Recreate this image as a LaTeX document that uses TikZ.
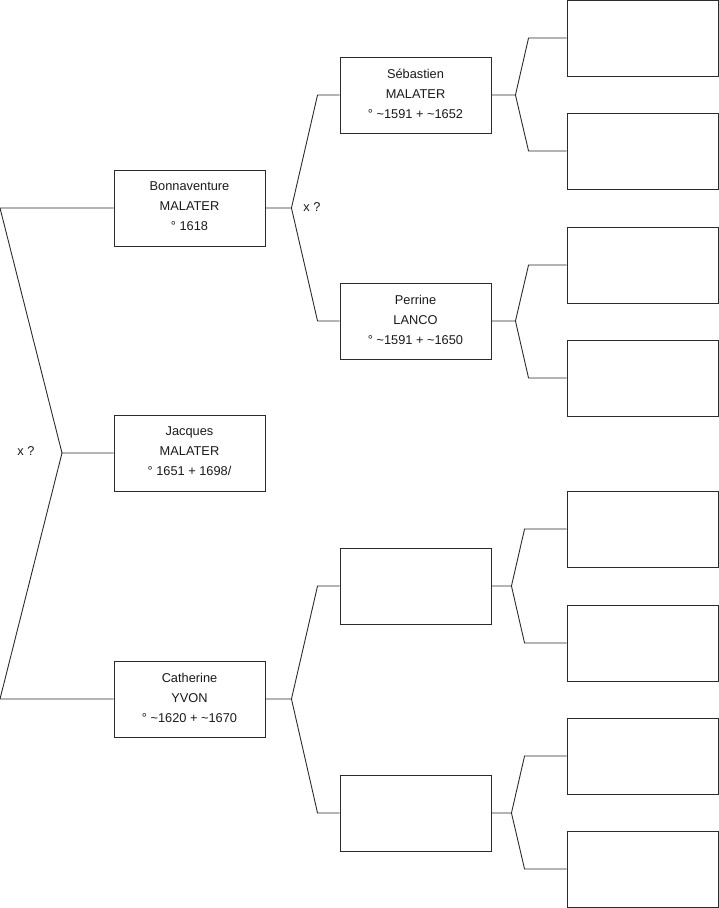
\documentclass[tikz,border=0pt]{standalone}
\usepackage{fontspec}
\setmainfont{Liberation Sans}
\usepackage{tikz}
\usetikzlibrary{positioning,calc}
\definecolor{ink}{HTML}{1A1A1A}
\definecolor{edge}{HTML}{2B2B2B}

\begin{document}
\begin{tikzpicture}[x=1pt,y=-1pt,line width=0.9pt,
  every node/.style={font=\fontsize{12.8}{20}\selectfont,text=ink},
  person/.style={draw=edge,minimum width=151pt,minimum height=76pt,align=center,inner sep=0pt},
  link/.style={draw=edge}]
  \useasboundingbox (0,0) rectangle (719,908);
  \coordinate (o) at (0,0);
  % generation 1
  \node[person] (bonn) at (189.5,208) {Bonnaventure\\MALATER\\° 1618\vspace{3pt}};
  \node[person] (jacq) at (189.5,453) {Jacques\\MALATER\\° 1651 + 1698/\vspace{3pt}};
  \node[person] (cath) at (189.5,699) {Catherine\\YVON\\° \textasciitilde1620 + \textasciitilde1670\vspace{3pt}};
  % generation 2
  \node[person] (seba) at (415.5,95) {Sébastien\\MALATER\\° \textasciitilde1591 + \textasciitilde1652\vspace{3pt}};
  \node[person] (perr) at (415.5,321) {Perrine\\LANCO\\° \textasciitilde1591 + \textasciitilde1650\vspace{3pt}};
  \node[person] (anca) at (415.5,586) {};
  \node[person] (ancb) at (415.5,813) {};
  % generation 3
  \foreach \n/\y in {1/38,2/151,3/265,4/378,5/529,6/643,7/756,8/869}
    \node[person] (g\n) at (642.5,\y) {};
  % couple Jacques
  \coordinate (f0) at (62,453);
  \draw[link] (jacq.west) -- (f0) -- (bonn.west -| o) -- (bonn.west);
  \draw[link] (f0) -- (cath.west -| o) -- (cath.west);
  \node at (26,451) {x ?};
  % parents of Bonnaventure
  \draw[link] (bonn.east) -- ++(26,0) coordinate (f1) -- ([xshift=-22pt]seba.west) -- (seba.west);
  \draw[link] (f1) -- ([xshift=-22pt]perr.west) -- (perr.west);
  \node at (312,207) {x ?};
  % parents of Catherine
  \draw[link] (cath.east) -- ++(26,0) coordinate (f2) -- ([xshift=-22pt]anca.west) -- (anca.west);
  \draw[link] (f2) -- ([xshift=-22pt]ancb.west) -- (ancb.west);
  % generation 3 forks
  \foreach \p/\a/\b/\d/\e in {seba/g1/g2/24/38,perr/g3/g4/24/38,anca/g5/g6/20/42,ancb/g7/g8/20/42}{
    \draw[link] (\p.east) -- ++(\d,0) coordinate (f\p) -- ([xshift=-\e pt]\a.west) -- (\a.west);
    \draw[link] (f\p) -- ([xshift=-\e pt]\b.west) -- (\b.west);
  }
\end{tikzpicture}
\end{document}
